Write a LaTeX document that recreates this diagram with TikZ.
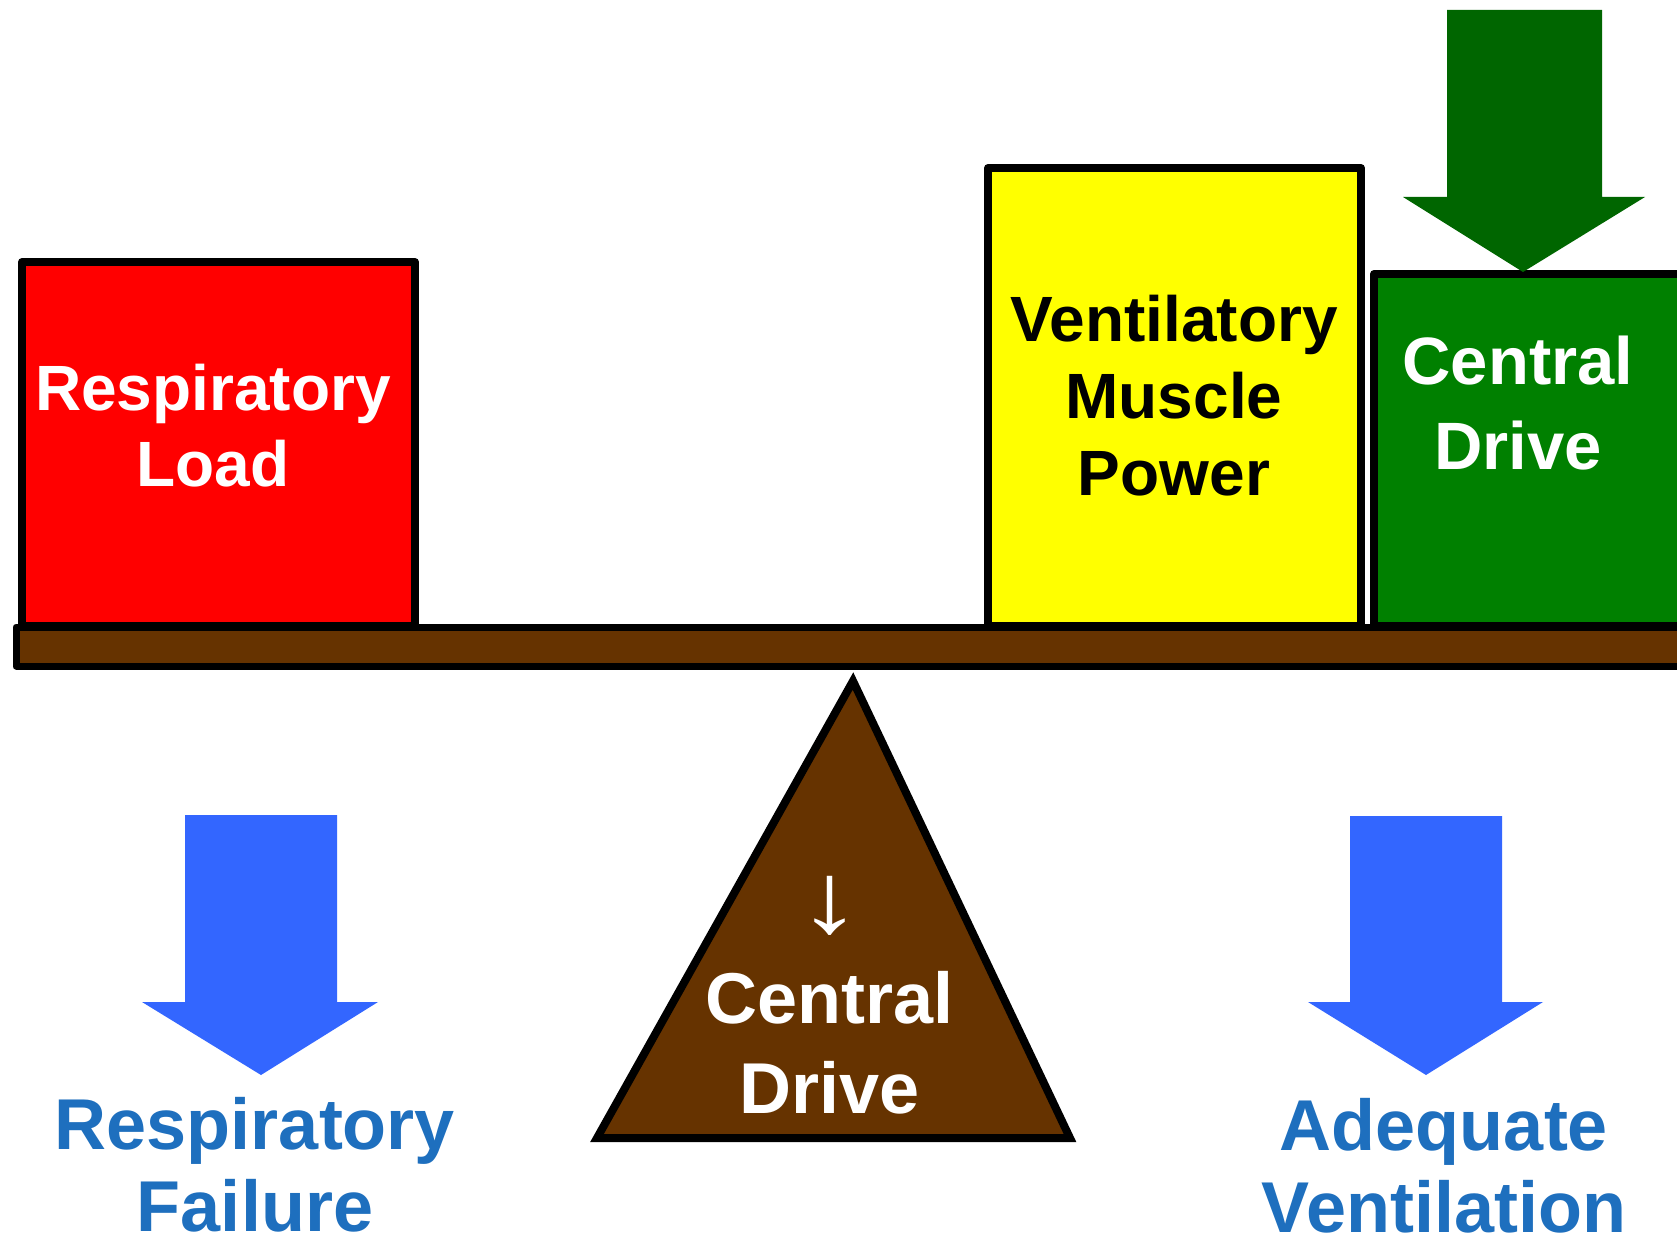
\documentclass[tikz,border=0pt]{standalone}
\usepackage{fontspec}
\setmainfont{Liberation Sans}
\definecolor{loadred}{RGB}{255,0,0}
\definecolor{muscleyellow}{RGB}{255,255,0}
\definecolor{drivegreen}{RGB}{0,128,0}
\definecolor{pushgreen}{RGB}{0,102,0}
\definecolor{beambrown}{RGB}{102,51,0}
\definecolor{outblue}{RGB}{51,102,255}
\definecolor{labelblue}{RGB}{30,111,190}
\tikzset{
  weight/.style={draw=black, line width=4pt, line join=round, inner sep=0pt},
  wtext/.style={font=\bfseries\fontsize{32}{38.5}\selectfont, text width=220pt,
                align=center, inner sep=0pt, anchor=base},
  outcome/.style={font=\bfseries\fontsize{36}{41}\selectfont, text=labelblue,
                  text width=260pt, align=center, inner sep=0pt, anchor=base}
}
\begin{document}
\begin{tikzpicture}[x=0.5pt,y=-0.5pt]
\useasboundingbox (0,0) rectangle (1677,1246);
\fill[white] (0,0) rectangle (1677,1246);

% weights resting on the lever
\node[weight, fill=loadred, minimum width=196.5pt, minimum height=182pt] (load) at (218.5,444) {};
\node[weight, fill=muscleyellow, minimum width=186.5pt, minimum height=229pt] (muscle) at (1174.5,397) {};
\node[weight, fill=drivegreen, minimum width=163pt, minimum height=176pt] (drive) at (1537,450) {};

\node[wtext, text=white] (loadtxt) at (213,410) {Respiratory\\Load};
\node[wtext, text=black] (muscletxt) at (1174,342) {Ventilatory\\Muscle\\Power};
\node[wtext, text=white, font=\bfseries\fontsize{33.5}{42.5}\selectfont] (drivetxt) at (1518,385) {Central\\Drive};

% lever
\node[weight, line width=3.5pt, fill=beambrown, minimum width=842pt, minimum height=19.5pt] (beam) at (858,646.5) {};

% fulcrum
\draw[line width=4pt, line join=miter, fill=beambrown] (853,681) -- (1070,1138) -- (597,1138) -- cycle;
\node[font=\fontsize{50}{54}\selectfont, text=white, inner sep=0pt, anchor=south, xscale=1.3] (dropsign) at (830,936) {↓};
\node[wtext, text=white, font=\bfseries\fontsize{36}{45}\selectfont] (fulcrumtxt) at (830,1023) {Central\\Drive};

% extra drive pushing down on the green weight
\fill[pushgreen] (1447,10) -- (1602,10) -- (1602,197) -- (1645,197) -- (1523,272)
  -- (1403,197) -- (1447,197) -- cycle;

% outcome arrows
\fill[outblue] (185,815) -- (337,815) -- (337,1002) -- (378,1002) -- (261,1075)
  -- (142,1002) -- (185,1002) -- cycle;
\fill[outblue] (1350,816) -- (1502,816) -- (1502,1002) -- (1543,1002) -- (1426,1075)
  -- (1308,1002) -- (1350,1002) -- cycle;

\node[outcome] (failure) at (255,1149) {Respiratory\\Failure};
\node[outcome] (adequate) at (1444,1150) {Adequate\\Ventilation};
\end{tikzpicture}
\end{document}
